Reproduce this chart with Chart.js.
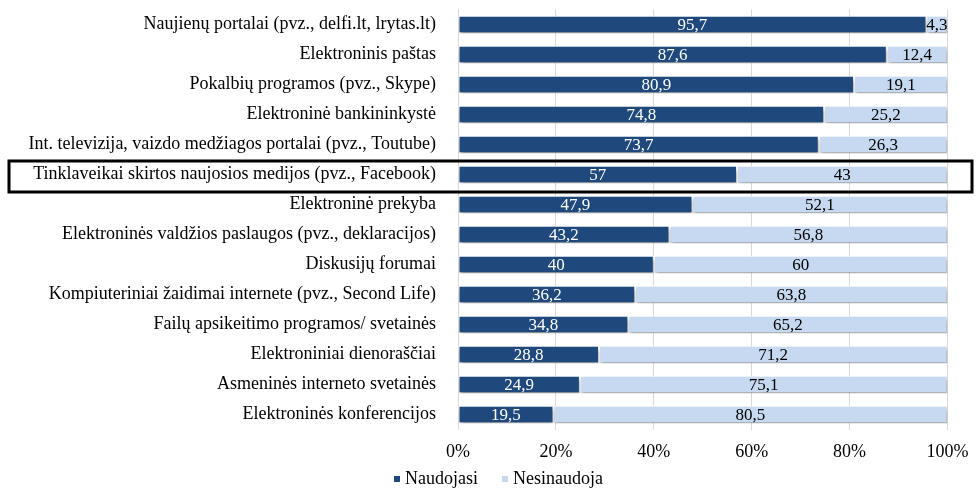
<!DOCTYPE html>
<html>
<head>
<meta charset="utf-8">
<script src="https://cdn.jsdelivr.net/npm/chart.js@4/dist/chart.umd.min.js"></script>
<style>
html,body{margin:0;padding:0;background:#fff;}
#wrap{width:976px;height:488px;position:relative;}
</style>
</head>
<body>
<div id="wrap"><canvas id="c" width="976" height="488"></canvas></div>
<script>
const categories = [
  "Naujienų portalai (pvz., delfi.lt, lrytas.lt)",
  "Elektroninis paštas",
  "Pokalbių programos (pvz., Skype)",
  "Elektroninė bankininkystė",
  "Int. televizija, vaizdo medžiagos portalai (pvz., Toutube)",
  "Tinklaveikai skirtos naujosios medijos (pvz., Facebook)",
  "Elektroninė prekyba",
  "Elektroninės valdžios paslaugos (pvz., deklaracijos)",
  "Diskusijų forumai",
  "Kompiuteriniai žaidimai internete (pvz., Second Life)",
  "Failų apsikeitimo programos/ svetainės",
  "Elektroniniai dienoraščiai",
  "Asmeninės interneto svetainės",
  "Elektroninės konferencijos"
];
const naudojasi = [95.7, 87.6, 80.9, 74.8, 73.7, 57, 47.9, 43.2, 40, 36.2, 34.8, 28.8, 24.9, 19.5];
const nesinaudoja = [4.3, 12.4, 19.1, 25.2, 26.3, 43, 52.1, 56.8, 60, 63.8, 65.2, 71.2, 75.1, 80.5];
const seriesNames = ["Naudojasi", "Nesinaudoja"];
const xTicks = [0, 20, 40, 60, 80, 100];
const highlightIndex = 5;

const FONT = "'Liberation Serif', 'Times New Roman', serif";
const COLORS = ['#1F497D', '#C6D9F1'];

const shadowPlugin = {
  id: 'shadow',
  beforeDatasetsDraw(chart) {
    const ctx = chart.ctx;
    ctx.save();
    ctx.shadowColor = 'rgba(0,0,0,0.4)';
    ctx.shadowBlur = 4;
    ctx.shadowOffsetX = 1;
    ctx.shadowOffsetY = 3;
  },
  afterDatasetsDraw(chart) {
    chart.ctx.restore();
  }
};

const labelPlugin = {
  id: 'barLabels',
  afterDatasetsDraw(chart) {
    const ctx = chart.ctx;
    ctx.save();
    ctx.font = "17px " + FONT;
    ctx.textAlign = 'center';
    ctx.textBaseline = 'middle';
    chart.data.datasets.forEach((ds, di) => {
      const meta = chart.getDatasetMeta(di);
      meta.data.forEach((bar, i) => {
        const v = ds.data[i];
        const cx = (bar.x + bar.base) / 2;
        ctx.fillStyle = di === 0 ? '#ffffff' : '#000000';
        ctx.fillText(String(v).replace('.', ','), cx, bar.y + 1);
      });
    });
    const y = chart.scales.y.getPixelForValue(highlightIndex);
    ctx.strokeStyle = '#000';
    ctx.lineWidth = 3;
    ctx.strokeRect(9, y - 13.5, 963, 31);
    ctx.restore();
  }
};

const legendPlugin = {
  id: 'customLegend',
  afterDraw(chart) {
    const ctx = chart.ctx;
    ctx.save();
    ctx.font = "18px " + FONT;
    ctx.textBaseline = 'middle';
    ctx.textAlign = 'left';
    const yMid = 479;
    let x = 394;
    chart.data.datasets.forEach((ds) => {
      ctx.fillStyle = ds.backgroundColor;
      ctx.fillRect(x, yMid - 3, 6, 6);
      ctx.fillStyle = '#000';
      ctx.fillText(ds.label, x + 11, yMid);
      x += 11 + ctx.measureText(ds.label).width + 24;
    });
    ctx.restore();
  }
};

new Chart(document.getElementById('c'), {
  type: 'bar',
  data: {
    labels: categories,
    datasets: [
      { label: seriesNames[0], data: naudojasi, backgroundColor: COLORS[0], borderColor: '#ffffff', borderWidth: 1, borderSkipped: false, barPercentage: 0.58, categoryPercentage: 1 },
      { label: seriesNames[1], data: nesinaudoja, backgroundColor: COLORS[1], borderColor: '#ffffff', borderWidth: 1, borderSkipped: false, barPercentage: 0.58, categoryPercentage: 1 }
    ]
  },
  options: {
    indexAxis: 'y',
    responsive: false,
    animation: false,
    layout: { padding: { top: 9.5, right: 28.5, left: 0, bottom: 22 } },
    scales: {
      x: {
        stacked: true,
        min: 0, max: 100,
        afterBuildTicks(scale) { scale.ticks = xTicks.map(v => ({ value: v })); },
        afterFit(scale) { scale.height = 36.5; scale.paddingLeft = 0; scale.paddingRight = 0; },
        ticks: { callback: v => v + '%', color: '#000', font: { family: FONT, size: 18 }, padding: 12, maxRotation: 0 },
        grid: { color: '#d9d9d9', drawTicks: false },
        border: { display: false }
      },
      y: {
        stacked: true,
        afterFit(scale) { scale.width = 458; scale.paddingTop = 0; scale.paddingBottom = 0; },
        ticks: { color: '#000', font: { family: FONT, size: 18 }, padding: 14, autoSkip: false },
        grid: { display: false },
        border: { display: true, color: '#d9d9d9' }
      }
    },
    plugins: {
      legend: { display: false },
      tooltip: { enabled: false }
    }
  },
  plugins: [shadowPlugin, labelPlugin, legendPlugin]
});
</script>
</body>
</html>
